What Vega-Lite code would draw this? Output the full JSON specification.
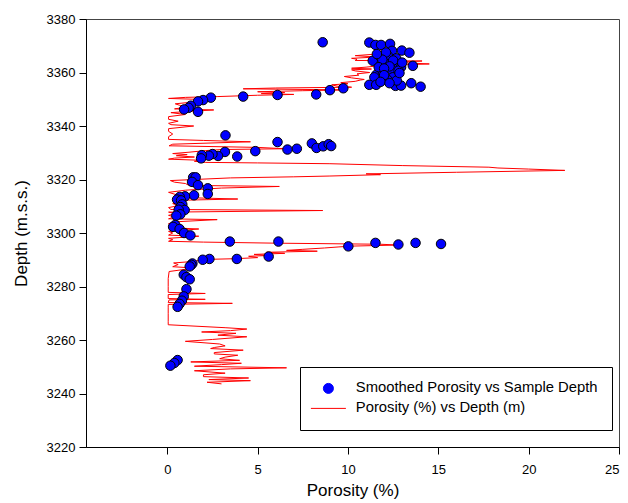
{
  "$schema": "https://vega.github.io/schema/vega-lite/v6.json",
  "width": 533,
  "height": 428,
  "autosize": "none",
  "padding": {"left": 86, "top": 19, "right": 9, "bottom": 56},
  "background": "white",
  "config": {
    "font": "Liberation Sans",
    "view": {"stroke": "#444444", "strokeWidth": 1},
    "axis": {
      "grid": false,
      "domainColor": "black",
      "tickColor": "black",
      "labelColor": "black",
      "titleColor": "black",
      "labelFont": "Liberation Sans",
      "titleFont": "Liberation Sans",
      "labelFontSize": 13,
      "titleFontSize": 17,
      "titleFontWeight": "normal",
      "tickSize": 7
    },
    "legend": {"labelFont": "Liberation Sans"}
  },
  "datasets": {
    "samples": [
      {"p": 8.6, "d": 3371.3, "s": "Smoothed Porosity vs Sample Depth"},
      {"p": 11.18, "d": 3371.2, "s": "Smoothed Porosity vs Sample Depth"},
      {"p": 11.52, "d": 3370.3, "s": "Smoothed Porosity vs Sample Depth"},
      {"p": 11.83, "d": 3370.3, "s": "Smoothed Porosity vs Sample Depth"},
      {"p": 12.33, "d": 3370.7, "s": "Smoothed Porosity vs Sample Depth"},
      {"p": 12.98, "d": 3368.2, "s": "Smoothed Porosity vs Sample Depth"},
      {"p": 13.4, "d": 3367.4, "s": "Smoothed Porosity vs Sample Depth"},
      {"p": 12.44, "d": 3368.1, "s": "Smoothed Porosity vs Sample Depth"},
      {"p": 11.37, "d": 3364.4, "s": "Smoothed Porosity vs Sample Depth"},
      {"p": 11.8, "d": 3365.9, "s": "Smoothed Porosity vs Sample Depth"},
      {"p": 12.2, "d": 3366.3, "s": "Smoothed Porosity vs Sample Depth"},
      {"p": 12.67, "d": 3365.3, "s": "Smoothed Porosity vs Sample Depth"},
      {"p": 12.02, "d": 3363.5, "s": "Smoothed Porosity vs Sample Depth"},
      {"p": 12.48, "d": 3363.1, "s": "Smoothed Porosity vs Sample Depth"},
      {"p": 12.94, "d": 3362.0, "s": "Smoothed Porosity vs Sample Depth"},
      {"p": 13.59, "d": 3362.5, "s": "Smoothed Porosity vs Sample Depth"},
      {"p": 11.56, "d": 3359.1, "s": "Smoothed Porosity vs Sample Depth"},
      {"p": 11.93, "d": 3360.3, "s": "Smoothed Porosity vs Sample Depth"},
      {"p": 12.39, "d": 3361.2, "s": "Smoothed Porosity vs Sample Depth"},
      {"p": 11.93, "d": 3357.9, "s": "Smoothed Porosity vs Sample Depth"},
      {"p": 11.46, "d": 3358.2, "s": "Smoothed Porosity vs Sample Depth"},
      {"p": 12.48, "d": 3358.2, "s": "Smoothed Porosity vs Sample Depth"},
      {"p": 12.2, "d": 3357.2, "s": "Smoothed Porosity vs Sample Depth"},
      {"p": 11.18, "d": 3355.4, "s": "Smoothed Porosity vs Sample Depth"},
      {"p": 11.56, "d": 3355.4, "s": "Smoothed Porosity vs Sample Depth"},
      {"p": 12.63, "d": 3355.0, "s": "Smoothed Porosity vs Sample Depth"},
      {"p": 12.94, "d": 3355.1, "s": "Smoothed Porosity vs Sample Depth"},
      {"p": 13.5, "d": 3356.0, "s": "Smoothed Porosity vs Sample Depth"},
      {"p": 14.02, "d": 3354.7, "s": "Smoothed Porosity vs Sample Depth"},
      {"p": 12.1, "d": 3367.5, "s": "Smoothed Porosity vs Sample Depth"},
      {"p": 11.9, "d": 3364.8, "s": "Smoothed Porosity vs Sample Depth"},
      {"p": 12.5, "d": 3364.5, "s": "Smoothed Porosity vs Sample Depth"},
      {"p": 12.3, "d": 3362.3, "s": "Smoothed Porosity vs Sample Depth"},
      {"p": 11.7, "d": 3362.0, "s": "Smoothed Porosity vs Sample Depth"},
      {"p": 12.0, "d": 3361.5, "s": "Smoothed Porosity vs Sample Depth"},
      {"p": 12.8, "d": 3360.7, "s": "Smoothed Porosity vs Sample Depth"},
      {"p": 12.0, "d": 3359.0, "s": "Smoothed Porosity vs Sample Depth"},
      {"p": 12.7, "d": 3357.0, "s": "Smoothed Porosity vs Sample Depth"},
      {"p": 11.8, "d": 3356.5, "s": "Smoothed Porosity vs Sample Depth"},
      {"p": 12.3, "d": 3356.0, "s": "Smoothed Porosity vs Sample Depth"},
      {"p": 13.0, "d": 3363.7, "s": "Smoothed Porosity vs Sample Depth"},
      {"p": 11.6, "d": 3366.9, "s": "Smoothed Porosity vs Sample Depth"},
      {"p": 12.85, "d": 3359.8, "s": "Smoothed Porosity vs Sample Depth"},
      {"p": 9.74, "d": 3354.1, "s": "Smoothed Porosity vs Sample Depth"},
      {"p": 9.0, "d": 3353.4, "s": "Smoothed Porosity vs Sample Depth"},
      {"p": 8.24, "d": 3351.8, "s": "Smoothed Porosity vs Sample Depth"},
      {"p": 6.1, "d": 3351.6, "s": "Smoothed Porosity vs Sample Depth"},
      {"p": 4.2, "d": 3351.0, "s": "Smoothed Porosity vs Sample Depth"},
      {"p": 2.41, "d": 3350.6, "s": "Smoothed Porosity vs Sample Depth"},
      {"p": 1.98, "d": 3349.7, "s": "Smoothed Porosity vs Sample Depth"},
      {"p": 1.7, "d": 3349.2, "s": "Smoothed Porosity vs Sample Depth"},
      {"p": 1.3, "d": 3347.6, "s": "Smoothed Porosity vs Sample Depth"},
      {"p": 1.18, "d": 3346.8, "s": "Smoothed Porosity vs Sample Depth"},
      {"p": 0.93, "d": 3346.2, "s": "Smoothed Porosity vs Sample Depth"},
      {"p": 1.7, "d": 3345.3, "s": "Smoothed Porosity vs Sample Depth"},
      {"p": 3.22, "d": 3336.5, "s": "Smoothed Porosity vs Sample Depth"},
      {"p": 6.1, "d": 3334.0, "s": "Smoothed Porosity vs Sample Depth"},
      {"p": 8.0, "d": 3333.5, "s": "Smoothed Porosity vs Sample Depth"},
      {"p": 8.26, "d": 3331.8, "s": "Smoothed Porosity vs Sample Depth"},
      {"p": 8.63, "d": 3332.4, "s": "Smoothed Porosity vs Sample Depth"},
      {"p": 8.93, "d": 3333.2, "s": "Smoothed Porosity vs Sample Depth"},
      {"p": 9.07, "d": 3332.5, "s": "Smoothed Porosity vs Sample Depth"},
      {"p": 7.17, "d": 3331.5, "s": "Smoothed Porosity vs Sample Depth"},
      {"p": 6.65, "d": 3331.2, "s": "Smoothed Porosity vs Sample Depth"},
      {"p": 4.87, "d": 3330.6, "s": "Smoothed Porosity vs Sample Depth"},
      {"p": 3.87, "d": 3328.6, "s": "Smoothed Porosity vs Sample Depth"},
      {"p": 3.19, "d": 3330.3, "s": "Smoothed Porosity vs Sample Depth"},
      {"p": 2.81, "d": 3328.8, "s": "Smoothed Porosity vs Sample Depth"},
      {"p": 2.5, "d": 3329.5, "s": "Smoothed Porosity vs Sample Depth"},
      {"p": 2.3, "d": 3328.9, "s": "Smoothed Porosity vs Sample Depth"},
      {"p": 1.91, "d": 3329.1, "s": "Smoothed Porosity vs Sample Depth"},
      {"p": 1.87, "d": 3327.9, "s": "Smoothed Porosity vs Sample Depth"},
      {"p": 1.43, "d": 3320.8, "s": "Smoothed Porosity vs Sample Depth"},
      {"p": 1.57, "d": 3320.8, "s": "Smoothed Porosity vs Sample Depth"},
      {"p": 1.37, "d": 3319.1, "s": "Smoothed Porosity vs Sample Depth"},
      {"p": 1.7, "d": 3317.9, "s": "Smoothed Porosity vs Sample Depth"},
      {"p": 2.24, "d": 3316.7, "s": "Smoothed Porosity vs Sample Depth"},
      {"p": 2.24, "d": 3314.6, "s": "Smoothed Porosity vs Sample Depth"},
      {"p": 1.48, "d": 3314.1, "s": "Smoothed Porosity vs Sample Depth"},
      {"p": 0.98, "d": 3313.7, "s": "Smoothed Porosity vs Sample Depth"},
      {"p": 0.69, "d": 3313.5, "s": "Smoothed Porosity vs Sample Depth"},
      {"p": 0.54, "d": 3312.5, "s": "Smoothed Porosity vs Sample Depth"},
      {"p": 0.76, "d": 3312.2, "s": "Smoothed Porosity vs Sample Depth"},
      {"p": 0.83, "d": 3310.7, "s": "Smoothed Porosity vs Sample Depth"},
      {"p": 0.72, "d": 3309.7, "s": "Smoothed Porosity vs Sample Depth"},
      {"p": 0.96, "d": 3308.6, "s": "Smoothed Porosity vs Sample Depth"},
      {"p": 0.63, "d": 3308.7, "s": "Smoothed Porosity vs Sample Depth"},
      {"p": 0.72, "d": 3307.0, "s": "Smoothed Porosity vs Sample Depth"},
      {"p": 0.5, "d": 3306.5, "s": "Smoothed Porosity vs Sample Depth"},
      {"p": 0.44, "d": 3303.0, "s": "Smoothed Porosity vs Sample Depth"},
      {"p": 0.32, "d": 3302.3, "s": "Smoothed Porosity vs Sample Depth"},
      {"p": 0.68, "d": 3301.5, "s": "Smoothed Porosity vs Sample Depth"},
      {"p": 0.93, "d": 3300.0, "s": "Smoothed Porosity vs Sample Depth"},
      {"p": 1.28, "d": 3299.1, "s": "Smoothed Porosity vs Sample Depth"},
      {"p": 3.46, "d": 3296.8, "s": "Smoothed Porosity vs Sample Depth"},
      {"p": 6.15, "d": 3296.8, "s": "Smoothed Porosity vs Sample Depth"},
      {"p": 10.02, "d": 3295.0, "s": "Smoothed Porosity vs Sample Depth"},
      {"p": 11.52, "d": 3296.3, "s": "Smoothed Porosity vs Sample Depth"},
      {"p": 12.79, "d": 3295.7, "s": "Smoothed Porosity vs Sample Depth"},
      {"p": 13.74, "d": 3296.3, "s": "Smoothed Porosity vs Sample Depth"},
      {"p": 15.15, "d": 3295.9, "s": "Smoothed Porosity vs Sample Depth"},
      {"p": 5.61, "d": 3291.2, "s": "Smoothed Porosity vs Sample Depth"},
      {"p": 3.85, "d": 3290.3, "s": "Smoothed Porosity vs Sample Depth"},
      {"p": 2.33, "d": 3290.3, "s": "Smoothed Porosity vs Sample Depth"},
      {"p": 1.96, "d": 3290.0, "s": "Smoothed Porosity vs Sample Depth"},
      {"p": 1.39, "d": 3288.6, "s": "Smoothed Porosity vs Sample Depth"},
      {"p": 1.33, "d": 3288.1, "s": "Smoothed Porosity vs Sample Depth"},
      {"p": 1.24, "d": 3287.5, "s": "Smoothed Porosity vs Sample Depth"},
      {"p": 0.91, "d": 3284.4, "s": "Smoothed Porosity vs Sample Depth"},
      {"p": 1.06, "d": 3283.5, "s": "Smoothed Porosity vs Sample Depth"},
      {"p": 1.24, "d": 3282.7, "s": "Smoothed Porosity vs Sample Depth"},
      {"p": 1.06, "d": 3279.0, "s": "Smoothed Porosity vs Sample Depth"},
      {"p": 0.91, "d": 3276.3, "s": "Smoothed Porosity vs Sample Depth"},
      {"p": 0.81, "d": 3274.7, "s": "Smoothed Porosity vs Sample Depth"},
      {"p": 0.68, "d": 3273.5, "s": "Smoothed Porosity vs Sample Depth"},
      {"p": 0.57, "d": 3272.4, "s": "Smoothed Porosity vs Sample Depth"},
      {"p": 0.57, "d": 3252.5, "s": "Smoothed Porosity vs Sample Depth"},
      {"p": 0.39, "d": 3251.4, "s": "Smoothed Porosity vs Sample Depth"},
      {"p": 0.17, "d": 3250.4, "s": "Smoothed Porosity vs Sample Depth"}
    ],
    "log": [
      {"d": 3243.6, "p": 3.0}, {"d": 3244.2, "p": 2.2}, {"d": 3244.8, "p": 4.6}, {"d": 3245.2, "p": 2.3},
      {"d": 3245.8, "p": 4.5}, {"d": 3246.3, "p": 2.0}, {"d": 3247.0, "p": 2.0}, {"d": 3247.6, "p": 3.2},
      {"d": 3248.5, "p": 1.5}, {"d": 3249.2, "p": 3.5}, {"d": 3249.6, "p": 6.6}, {"d": 3250.2, "p": 1.5},
      {"d": 3250.8, "p": 3.0}, {"d": 3251.3, "p": 4.1}, {"d": 3251.8, "p": 1.3}, {"d": 3252.4, "p": 4.0},
      {"d": 3253.0, "p": 2.9}, {"d": 3253.6, "p": 3.2}, {"d": 3254.3, "p": 3.9}, {"d": 3254.8, "p": 2.6},
      {"d": 3255.3, "p": 2.6}, {"d": 3256.2, "p": 4.2}, {"d": 3256.8, "p": 2.4}, {"d": 3257.2, "p": 2.6},
      {"d": 3257.8, "p": 3.2}, {"d": 3258.5, "p": 2.9}, {"d": 3259.5, "p": 1.0}, {"d": 3260.2, "p": 2.5},
      {"d": 3261.2, "p": 4.4}, {"d": 3261.8, "p": 2.8}, {"d": 3262.5, "p": 3.8}, {"d": 3263.0, "p": 1.9},
      {"d": 3263.5, "p": 3.5}, {"d": 3264.1, "p": 4.4}, {"d": 3264.6, "p": 3.2}, {"d": 3265.7, "p": 0.05},
      {"d": 3267.0, "p": 0.05}, {"d": 3270.0, "p": 0.05}, {"d": 3272.0, "p": 0.05}, {"d": 3273.3, "p": 0.05},
      {"d": 3273.7, "p": 3.6}, {"d": 3274.0, "p": 0.05}, {"d": 3275.0, "p": 0.1}, {"d": 3275.2, "p": 2.1},
      {"d": 3275.5, "p": 0.05}, {"d": 3277.0, "p": 0.05}, {"d": 3277.4, "p": 2.1}, {"d": 3277.8, "p": 0.05},
      {"d": 3280.0, "p": 0.05}, {"d": 3283.0, "p": 0.05}, {"d": 3285.6, "p": 0.1}, {"d": 3286.9, "p": 1.5},
      {"d": 3287.4, "p": 0.3}, {"d": 3288.2, "p": 0.6}, {"d": 3288.8, "p": 0.35}, {"d": 3289.4, "p": 1.5},
      {"d": 3290.1, "p": 2.0}, {"d": 3290.4, "p": 3.8}, {"d": 3290.8, "p": 5.0}, {"d": 3291.3, "p": 4.5},
      {"d": 3291.6, "p": 5.6}, {"d": 3292.0, "p": 4.8}, {"d": 3292.4, "p": 6.5}, {"d": 3292.8, "p": 5.5},
      {"d": 3293.2, "p": 8.3}, {"d": 3293.5, "p": 6.6}, {"d": 3293.9, "p": 7.5}, {"d": 3294.4, "p": 8.7},
      {"d": 3294.8, "p": 9.5}, {"d": 3295.1, "p": 10.2}, {"d": 3295.5, "p": 12.8}, {"d": 3295.8, "p": 11.8},
      {"d": 3296.2, "p": 6.0}, {"d": 3296.6, "p": 2.0}, {"d": 3296.9, "p": 0.07}, {"d": 3297.5, "p": 0.3},
      {"d": 3298.0, "p": 0.07}, {"d": 3298.8, "p": 1.74}, {"d": 3299.2, "p": 0.07}, {"d": 3300.0, "p": 0.3},
      {"d": 3300.6, "p": 0.07}, {"d": 3301.5, "p": 1.74}, {"d": 3302.0, "p": 0.07}, {"d": 3302.7, "p": 0.2},
      {"d": 3303.5, "p": 0.07}, {"d": 3304.2, "p": 0.5}, {"d": 3305.0, "p": 2.76}, {"d": 3305.3, "p": 0.07},
      {"d": 3306.0, "p": 0.4}, {"d": 3306.6, "p": 0.07}, {"d": 3307.3, "p": 0.5}, {"d": 3307.8, "p": 0.07},
      {"d": 3308.4, "p": 8.6}, {"d": 3308.8, "p": 0.2}, {"d": 3309.5, "p": 0.07}, {"d": 3310.2, "p": 0.6},
      {"d": 3311.0, "p": 0.3}, {"d": 3311.7, "p": 1.0}, {"d": 3312.2, "p": 0.4}, {"d": 3312.7, "p": 3.9},
      {"d": 3313.2, "p": 1.2}, {"d": 3313.7, "p": 1.5}, {"d": 3314.3, "p": 0.5}, {"d": 3315.2, "p": 0.07},
      {"d": 3316.0, "p": 1.0}, {"d": 3316.8, "p": 3.0}, {"d": 3317.4, "p": 6.2}, {"d": 3317.8, "p": 1.2},
      {"d": 3318.5, "p": 1.0}, {"d": 3319.0, "p": 0.4}, {"d": 3319.6, "p": 0.17}, {"d": 3320.0, "p": 1.5},
      {"d": 3320.6, "p": 3.5}, {"d": 3321.0, "p": 7.0}, {"d": 3321.3, "p": 9.0}, {"d": 3321.8, "p": 11.8},
      {"d": 3322.1, "p": 11.0}, {"d": 3322.7, "p": 16.0}, {"d": 3323.4, "p": 22.0}, {"d": 3323.9, "p": 20.0},
      {"d": 3324.3, "p": 18.3}, {"d": 3324.6, "p": 17.8}, {"d": 3325.2, "p": 13.0}, {"d": 3325.9, "p": 9.0},
      {"d": 3326.2, "p": 5.0}, {"d": 3326.4, "p": 2.1}, {"d": 3326.8, "p": 1.5}, {"d": 3327.2, "p": 1.8},
      {"d": 3327.6, "p": 0.07}, {"d": 3328.0, "p": 0.4}, {"d": 3328.4, "p": 1.5}, {"d": 3328.9, "p": 0.5},
      {"d": 3329.3, "p": 1.1}, {"d": 3329.7, "p": 0.3}, {"d": 3330.2, "p": 1.2}, {"d": 3330.8, "p": 2.1},
      {"d": 3331.2, "p": 3.0}, {"d": 3331.5, "p": 6.5}, {"d": 3332.0, "p": 5.0}, {"d": 3332.6, "p": 0.1},
      {"d": 3333.2, "p": 0.3}, {"d": 3334.1, "p": 4.6}, {"d": 3334.6, "p": 2.0}, {"d": 3335.0, "p": 0.07},
      {"d": 3336.0, "p": 0.07}, {"d": 3337.0, "p": 0.3}, {"d": 3338.0, "p": 0.07}, {"d": 3339.0, "p": 0.07},
      {"d": 3340.0, "p": 1.46}, {"d": 3340.5, "p": 0.2}, {"d": 3341.0, "p": 0.07}, {"d": 3341.8, "p": 0.6},
      {"d": 3342.5, "p": 0.07}, {"d": 3343.5, "p": 0.07}, {"d": 3344.3, "p": 1.0}, {"d": 3345.0, "p": 0.2},
      {"d": 3345.5, "p": 1.3}, {"d": 3346.0, "p": 2.57}, {"d": 3346.4, "p": 0.4}, {"d": 3347.0, "p": 1.0},
      {"d": 3347.7, "p": 0.7}, {"d": 3348.3, "p": 0.44}, {"d": 3348.8, "p": 1.2}, {"d": 3349.4, "p": 1.8},
      {"d": 3349.8, "p": 2.5}, {"d": 3350.3, "p": 0.07}, {"d": 3350.7, "p": 1.0}, {"d": 3351.0, "p": 2.8},
      {"d": 3351.5, "p": 5.0}, {"d": 3351.8, "p": 7.0}, {"d": 3352.1, "p": 5.2}, {"d": 3352.5, "p": 6.5},
      {"d": 3352.8, "p": 5.0}, {"d": 3353.2, "p": 7.5}, {"d": 3353.5, "p": 9.9}, {"d": 3353.9, "p": 4.2},
      {"d": 3354.2, "p": 6.0}, {"d": 3354.5, "p": 10.2}, {"d": 3354.9, "p": 9.4}, {"d": 3355.4, "p": 9.1},
      {"d": 3355.8, "p": 10.0}, {"d": 3356.2, "p": 9.6}, {"d": 3356.7, "p": 10.4}, {"d": 3357.2, "p": 10.7},
      {"d": 3357.4, "p": 10.9}, {"d": 3358.0, "p": 10.2}, {"d": 3358.5, "p": 9.8}, {"d": 3359.0, "p": 10.6},
      {"d": 3359.5, "p": 10.5}, {"d": 3360.0, "p": 11.2}, {"d": 3360.6, "p": 10.4}, {"d": 3361.0, "p": 10.2},
      {"d": 3361.3, "p": 11.3}, {"d": 3361.6, "p": 10.2}, {"d": 3362.0, "p": 11.0}, {"d": 3362.6, "p": 11.8},
      {"d": 3363.2, "p": 14.5}, {"d": 3363.8, "p": 12.6}, {"d": 3364.3, "p": 14.1}, {"d": 3364.5, "p": 10.4},
      {"d": 3365.0, "p": 10.5}, {"d": 3365.3, "p": 10.2}, {"d": 3365.8, "p": 11.6}, {"d": 3366.3, "p": 10.4},
      {"d": 3366.8, "p": 11.4}, {"d": 3367.4, "p": 11.6}, {"d": 3367.8, "p": 11.6}, {"d": 3368.3, "p": 11.8}
    ]
  },
  "encoding": {
    "x": {
      "field": "p", "type": "quantitative",
      "scale": {"domain": [-4.5, 25], "nice": false, "zero": false},
      "axis": {"values": [0, 5, 10, 15, 20, 25], "title": "Porosity (%)", "labelPadding": 9, "titlePadding": 6}
    },
    "y": {
      "field": "d", "type": "quantitative",
      "scale": {"domain": [3220, 3380], "nice": false, "zero": false},
      "axis": {"values": [3220, 3240, 3260, 3280, 3300, 3320, 3340, 3360, 3380], "format": "d", "title": "Depth (m.s.s.)", "labelPadding": 4, "titlePadding": 16}
    },
    "color": {
      "field": "s", "type": "nominal",
      "scale": {"domain": ["Smoothed Porosity vs Sample Depth", "Porosity (%) vs Depth (m)"], "range": ["#0000ff", "#ff0000"]},
      "legend": {
        "title": null,
        "orient": "none",
        "legendX": 214,
        "legendY": 348,
        "strokeColor": "black",
        "fillColor": "white",
        "padding": 14,
        "labelFontSize": 14.8,
        "labelColor": "black",
        "labelLimit": 400,
        "symbolSize": 200,
        "symbolOffset": 7,
        "rowPadding": 4,
        "labelOffset": 20,
        "encode": {
          "symbols": {
            "update": {
              "shape": {"signal": "datum.value === 'Porosity (%) vs Depth (m)' ? 'stroke' : 'circle'"},
              "fill": {"signal": "datum.value === 'Porosity (%) vs Depth (m)' ? 'transparent' : '#0000ff'"},
              "stroke": {"signal": "datum.value === 'Porosity (%) vs Depth (m)' ? '#ff0000' : '#000000'"},
              "size": {"signal": "datum.value === 'Porosity (%) vs Depth (m)' ? 1225 : 100"},
              "strokeWidth": {"value": 1},
              "opacity": {"value": 1}
            }
          }
        }
      }
    }
  },
  "layer": [
    {
      "data": {"name": "log"},
      "transform": [{"calculate": "'Porosity (%) vs Depth (m)'", "as": "s"}],
      "mark": {"type": "line", "strokeWidth": 1, "clip": true},
      "encoding": {
        "order": {"field": "d", "type": "quantitative"}
      }
    },
    {
      "data": {"name": "samples"},
      "mark": {"type": "point", "filled": true, "stroke": "black", "strokeWidth": 1, "size": 90, "opacity": 1}
    }
  ]
}
